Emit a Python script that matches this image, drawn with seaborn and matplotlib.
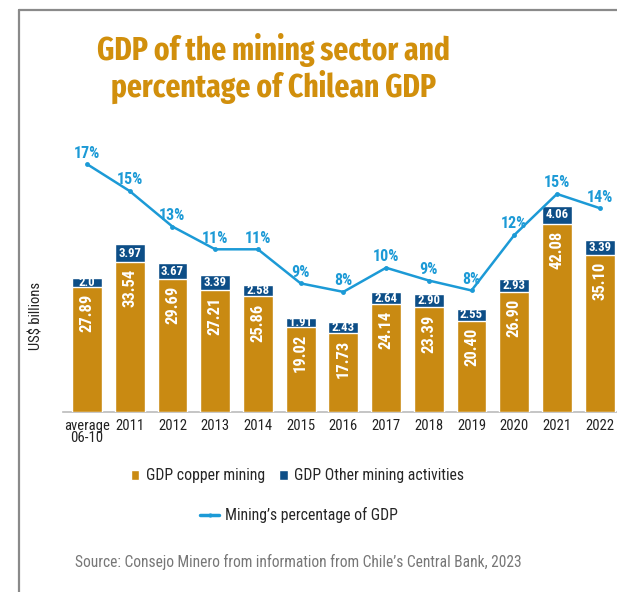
import matplotlib
matplotlib.use("Agg")
import matplotlib.pyplot as plt
import seaborn as sns
import numpy as np
import pandas as pd
from matplotlib.lines import Line2D
from matplotlib.patches import Patch, Rectangle

categories = ["average\n06-10", "2011", "2012", "2013", "2014", "2015", "2016",
              "2017", "2018", "2019", "2020", "2021", "2022"]
copper = [27.89, 33.54, 29.69, 27.21, 25.86, 19.02, 17.73, 24.14, 23.39, 20.40, 26.90, 42.08, 35.10]
other = [2.0, 3.97, 3.67, 3.39, 2.58, 1.91, 2.43, 2.64, 2.90, 2.55, 2.93, 4.06, 3.39]
other_labels = ["2.0", "3.97", "3.67", "3.39", "2.58", "1.91", "2.43", "2.64", "2.90", "2.55", "2.93", "4.06", "3.39"]
pct = [17.0, 15.1, 12.6, 11.0, 11.0, 8.6, 8.0, 9.7, 8.8, 8.1, 12.0, 14.9, 13.9]
pct_labels = ["17%", "15%", "13%", "11%", "11%", "9%", "8%", "10%", "9%", "8%", "12%", "15%", "14%"]

GOLD = "#C98A12"
BLUE = "#0D4E87"
LINE = "#1C9AD6"
TITLE = "#D18F0C"

sns.set_theme(style="white")
FONT = ["Roboto Condensed", "Liberation Sans", "DejaVu Sans"]
TFONT = ["Fira Sans Extra Condensed", "Fira Sans Condensed", "Roboto Condensed", "DejaVu Sans"]
plt.rcParams["font.family"] = FONT

df = pd.DataFrame({"cat": categories, "copper": copper, "other": other,
                   "total": np.array(copper) + np.array(other), "pct": pct})

fig = plt.figure(figsize=(6.17, 5.92), dpi=100)
ax = fig.add_axes([0.1016, 0.3046, 0.898, 0.4589])

sns.barplot(data=df, x="cat", y="total", color=BLUE, width=0.7, ax=ax,
            saturation=1, zorder=2)
sns.barplot(data=df, x="cat", y="copper", color=GOLD, width=0.7, ax=ax,
            saturation=1, zorder=3)

for i, (c, o) in enumerate(zip(copper, other)):
    ax.annotate(f"{c:.2f}", xy=(i, c), xytext=(0, -5), textcoords="offset points",
                rotation=90, ha="center", va="top", color="white",
                fontsize=12, fontweight="bold", zorder=5)
    t = ax.text(i, c + o / 2, other_labels[i], ha="center", va="center",
                color="white", fontsize=9.2, fontweight="bold", zorder=5)
    rect = Rectangle((i - 0.35, c), 0.7, o, transform=ax.transData)
    t.set_clip_path(rect)

ax.set_ylim(0, 60.9)
ax.set_xlim(-0.57, 12.4)
ax.set_xlabel("")
ax.set_ylabel("US$ billions", fontsize=10.5, color="#222222")
ax.yaxis.set_label_coords(-0.034, 0.352)
ax.set_yticks([])
ax.tick_params(axis="x", length=0, labelsize=10.5, colors="#222222", pad=5)
for lab in ax.get_xticklabels():
    lab.set_linespacing(0.85)
for s in ["top", "right", "left"]:
    ax.spines[s].set_visible(False)
ax.spines["bottom"].set_color("#BBBBBB")
ax.spines["bottom"].set_linewidth(1.2)

ax2 = ax.twinx()
sns.lineplot(x=np.arange(len(pct)), y=pct, ax=ax2, color=LINE, linewidth=1.8,
             marker="o", markersize=3.5, markeredgewidth=0)
for i, (p, lab) in enumerate(zip(pct, pct_labels)):
    ax2.annotate(lab, xy=(i, p), xytext=(0, 8), textcoords="offset points",
                 ha="center", va="center", color=LINE, fontsize=11.5, fontweight="bold")
ax2.set_ylim(-0.44, 18.7)
ax2.set_yticks([])
ax2.set_ylabel("")
for s in ["top", "right", "left", "bottom"]:
    ax2.spines[s].set_visible(False)

fig.text(0.443, 0.884, "GDP of the mining sector and\npercentage of Chilean GDP",
         ha="center", va="center", color=TITLE, fontsize=23, fontweight="bold",
         linespacing=1.1, family=TFONT)

h1 = [Patch(facecolor=GOLD, label="GDP copper mining"),
      Patch(facecolor=BLUE, label="GDP Other mining activities")]
fig.legend(handles=h1, loc="center", bbox_to_anchor=(0.482, 0.196), ncol=2,
           frameon=False, fontsize=11.3, handlelength=0.55, handleheight=0.55,
           handletextpad=0.4, columnspacing=0.9)
h2 = [Line2D([0], [0], color=LINE, linewidth=2.5, marker="o", markersize=2,
             label="Mining\u2019s percentage of GDP")]
fig.legend(handles=h2, loc="center", bbox_to_anchor=(0.485, 0.13),
           frameon=False, fontsize=11.3, handlelength=1.2, handletextpad=0.4)

fig.text(0.484, 0.051, "Source: Consejo Minero from information from Chile\u2019s Central Bank, 2023",
         ha="center", va="center", color="#777777", fontsize=11.2)

fig.add_artist(Line2D([0.031, 0.031], [0.0, 0.983], color="#8A8A8A", linewidth=1.6,
                      transform=fig.transFigure))
fig.add_artist(Line2D([0.031, 1.0], [0.983, 0.983], color="#8A8A8A", linewidth=1.6,
                      transform=fig.transFigure))

fig.savefig("out.png", dpi=100)
